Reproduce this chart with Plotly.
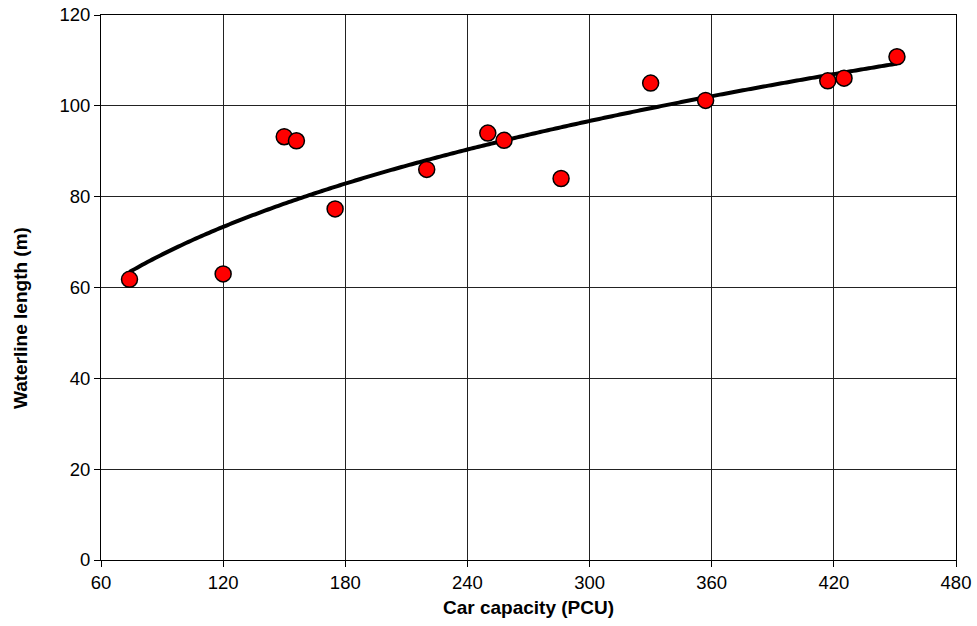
import numpy as np
import plotly.graph_objects as go

# Data
car_capacity = [74, 120, 150, 156, 175, 220, 250, 258, 286, 330, 357, 417, 425, 451]
waterline_length = [61.8, 63.0, 93.2, 92.3, 77.3, 86.0, 94.0, 92.4, 84.0, 105.0, 101.2, 105.5, 106.1, 110.8]

x_ticks = [60, 120, 180, 240, 300, 360, 420, 480]
y_ticks = [0, 20, 40, 60, 80, 100, 120]

# Power trendline (least squares in log space, as in a spreadsheet power trendline)
lx = np.log(car_capacity)
ly = np.log(waterline_length)
b, ln_a = np.polyfit(lx, ly, 1)
trend_x = np.linspace(min(car_capacity), max(car_capacity), 300)
trend_y = np.exp(ln_a) * trend_x ** b

fig = go.Figure()
fig.add_trace(go.Scatter(
    x=trend_x, y=trend_y, mode="lines",
    line=dict(color="black", width=4, simplify=False),
    showlegend=False, hoverinfo="skip"))
fig.add_trace(go.Scatter(
    x=car_capacity, y=waterline_length, mode="markers",
    marker=dict(color="#ff0000", size=16, line=dict(color="black", width=1.5)),
    showlegend=False))

font_family = "Liberation Sans, Arial, sans-serif"
axis_common = dict(
    showline=True, linecolor="black", linewidth=1, mirror=True,
    showgrid=True, gridcolor="#222222", gridwidth=1,
    ticks="outside", ticklen=6, tickcolor="black", tickwidth=1,
    tickfont=dict(family=font_family, size=18.5, color="black"),
    zeroline=False, automargin=False,
)
fig.update_layout(
    width=977, height=626,
    margin=dict(l=101, r=21, t=15, b=66, autoexpand=False),
    paper_bgcolor="white", plot_bgcolor="white",
    font=dict(family=font_family, color="black"),
    xaxis=dict(range=[60, 480], tickvals=x_ticks, **axis_common),
    yaxis=dict(range=[0, 120], tickvals=y_ticks, **axis_common),
    annotations=[
        dict(text="<b>Car capacity (PCU)</b>", xref="paper", yref="paper",
             x=0.5, y=-47 / 545, xanchor="center", yanchor="middle",
             showarrow=False, font=dict(size=19, family=font_family, color="black")),
        dict(text="<b>Waterline length (m)</b>", xref="paper", yref="paper",
             x=-81 / 855, y=0.444, xanchor="center", yanchor="middle", textangle=-90,
             showarrow=False, font=dict(size=19, family=font_family, color="black")),
    ],
)
# remove the default page margin so the figure sits at the window's top-left corner
fig.write_html("out.html",
               config={"displayModeBar": False},
               post_script="document.body.style.margin='0';document.body.style.overflow='hidden';")
